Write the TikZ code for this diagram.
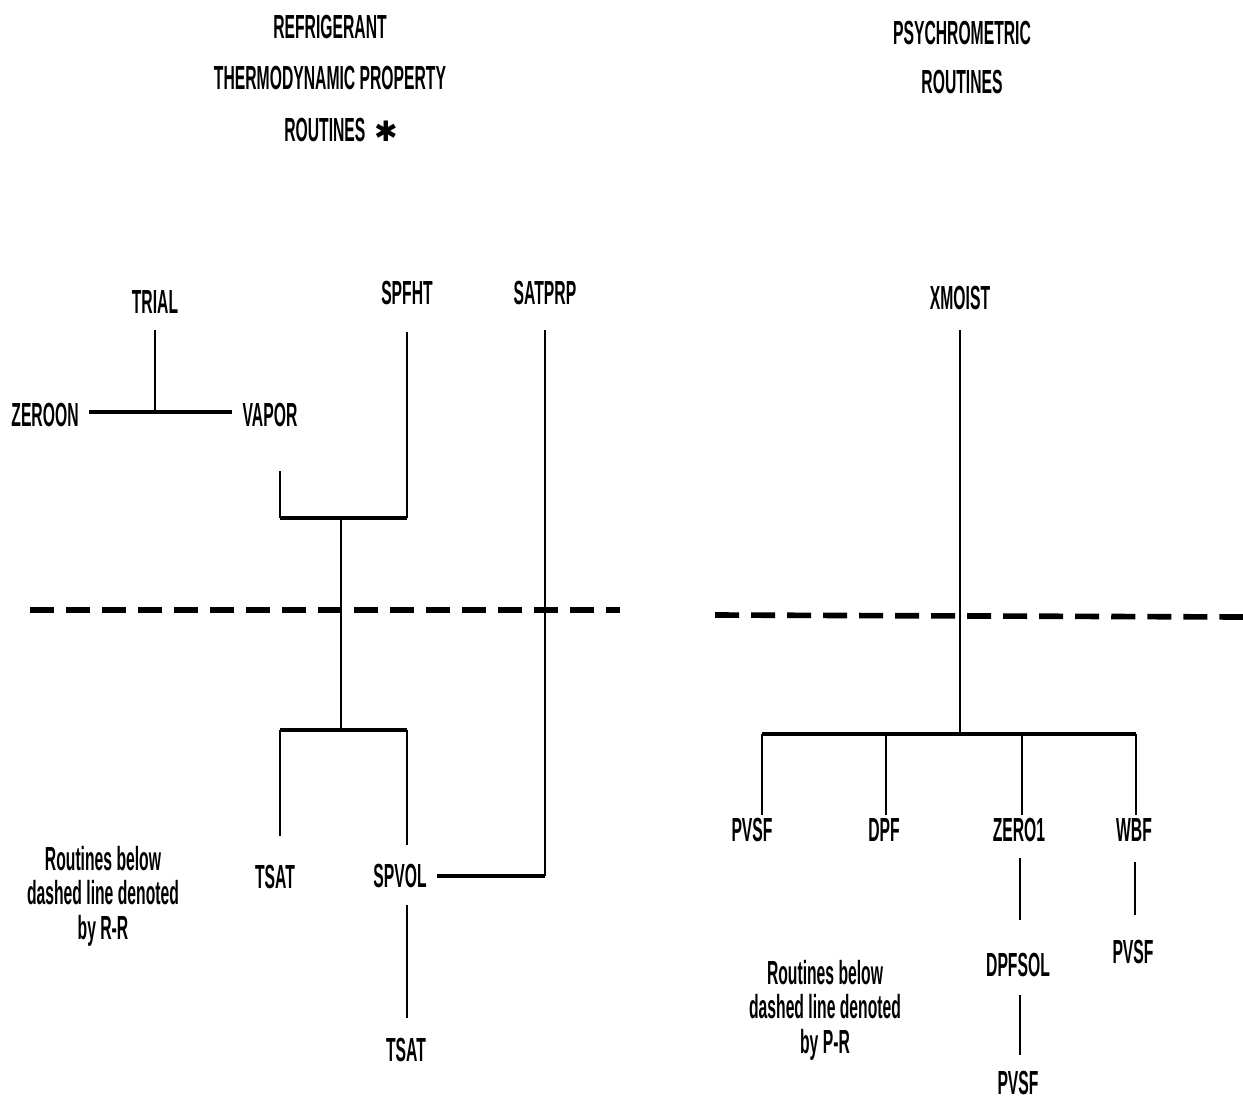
\documentclass[tikz,border=0pt]{standalone}
\usepackage{fontspec}
\setmainfont{Liberation Sans}[FakeStretch=0.47]
\newfontfamily\symfont{DejaVu Sans}
\usetikzlibrary{positioning,calc}

\tikzset{
  rtn/.style={font=\fontsize{9.5}{11}\selectfont\bfseries,inner sep=1pt},
  note/.style={rtn,align=center,font=\fontsize{9.5}{9.8}\selectfont\bfseries},
  link/.style={line width=0.65pt},
  bar/.style={line width=1.3pt},
  sep/.style={line width=1.6pt,dash pattern=on 0.24cm off 0.12cm}
}

\begin{document}
\begin{tikzpicture}[x=0.01cm,y=-0.01cm]
\useasboundingbox (0,0) rectangle (1243,1106);

% headings
\node[rtn] (hda) at (330,27) {REFRIGERANT};
\node[rtn] (hdb) at (330,78) {THERMODYNAMIC PROPERTY};
\node[rtn] (hdc) at (341,130) {ROUTINES \ {\symfont\fontsize{8}{9}\selectfont ✱}};
\node[rtn] (hdd) at (962,33) {PSYCHROMETRIC};
\node[rtn] (hde) at (962,82) {ROUTINES};

% dashed lines
\draw[sep] (30,610) -- (620,610);
\draw[sep] (715,615) -- (1243,617);

% refrigerant routines
\node[rtn] (trial) at (155,302) {TRIAL};
\node[rtn] (zeroon) at (45,415) {ZEROON};
\node[rtn] (vapor) at (270,415) {VAPOR};
\node[rtn] (spfht) at (407,293) {SPFHT};
\node[rtn] (satprp) at (545,293) {SATPRP};
\node[rtn] (tsata) at (275,877) {TSAT};
\node[rtn] (spvol) at (400,876) {SPVOL};
\node[rtn] (tsatb) at (406,1050) {TSAT};
\node[note] (notel) at (103,896) {Routines below\\dashed line denoted\\by R-R};

\coordinate (jtrial) at (155,412);
\coordinate (jv) at (280,518);
\coordinate (js) at (407,518);
\coordinate (jmid) at (341,518);
\coordinate (jlow) at (341,730);
\coordinate (jtl) at (280,730);
\coordinate (jtr) at (407,730);
\coordinate (jsat) at (545,876);

\draw[link] (trial.center) ++(0,28) -- (jtrial);
\draw[bar] ($(zeroon.east |- jtrial)+(6,0)$) -- (jtrial) -- ($(vapor.west |- jtrial)+(-6,0)$);
\draw[link] (vapor.center -| jv) ++(0,56) -- (jv);
\draw[bar] (jv) -- (js);
\draw[link] (spfht.center) ++(0,39) -- (js);
\draw[link] (jmid) -- (jlow);
\draw[bar] (jtl) -- (jtr);
\draw[link] (jtl) -- ($(tsata.center -| jtl)+(0,-41)$);
\draw[link] (jtr) -- ($(spvol.center -| jtr)+(0,-31)$);
\draw[link] (satprp.center -| jsat) ++(0,37) -- (jsat);
\draw[bar] (jsat) -- ($(spvol.east |- jsat)+(6,0)$);
\draw[link] (spvol.center -| jtr) ++(0,29) -- ($(tsatb.center -| jtr)+(0,-32)$);

% psychrometric routines
\node[rtn] (xmoist) at (960,298) {XMOIST};
\node[rtn] (pvsfa) at (752,830) {PVSF};
\node[rtn] (dpf) at (884,830) {DPF};
\node[rtn] (zero1) at (1019,830) {ZERO1};
\node[rtn] (wbf) at (1134,830) {WBF};
\node[rtn] (dpfsol) at (1018,965) {DPFSOL};
\node[rtn] (pvsfc) at (1018,1083) {PVSF};
\node[rtn] (pvsfb) at (1133,952) {PVSF};
\node[note] (noter) at (825,1010) {Routines below\\dashed line denoted\\by P-R};

\coordinate (jx) at (960,734);
\coordinate (jpa) at (762,734);
\coordinate (jpd) at (886,734);
\coordinate (jpz) at (1022,734);
\coordinate (jpw) at (1136,734);

\draw[link] (xmoist.center) ++(0,32) -- (jx);
\draw[bar] (jpa) -- (jpw);
\foreach \j/\n in {jpa/pvsfa,jpd/dpf,jpz/zero1,jpw/wbf}{
  \draw[link] (\j) -- ($(\n.center -| \j)+(0,-15)$);
}
\draw[link] (zero1.center) ++(1,28) -- ($(dpfsol.center)+(2,-45)$);
\draw[link] (dpfsol.center) ++(2,30) -- ($(pvsfc.center)+(2,-28)$);
\draw[link] (wbf.center) ++(1,32) -- ($(pvsfb.center)+(2,-37)$);
\end{tikzpicture}
\end{document}
